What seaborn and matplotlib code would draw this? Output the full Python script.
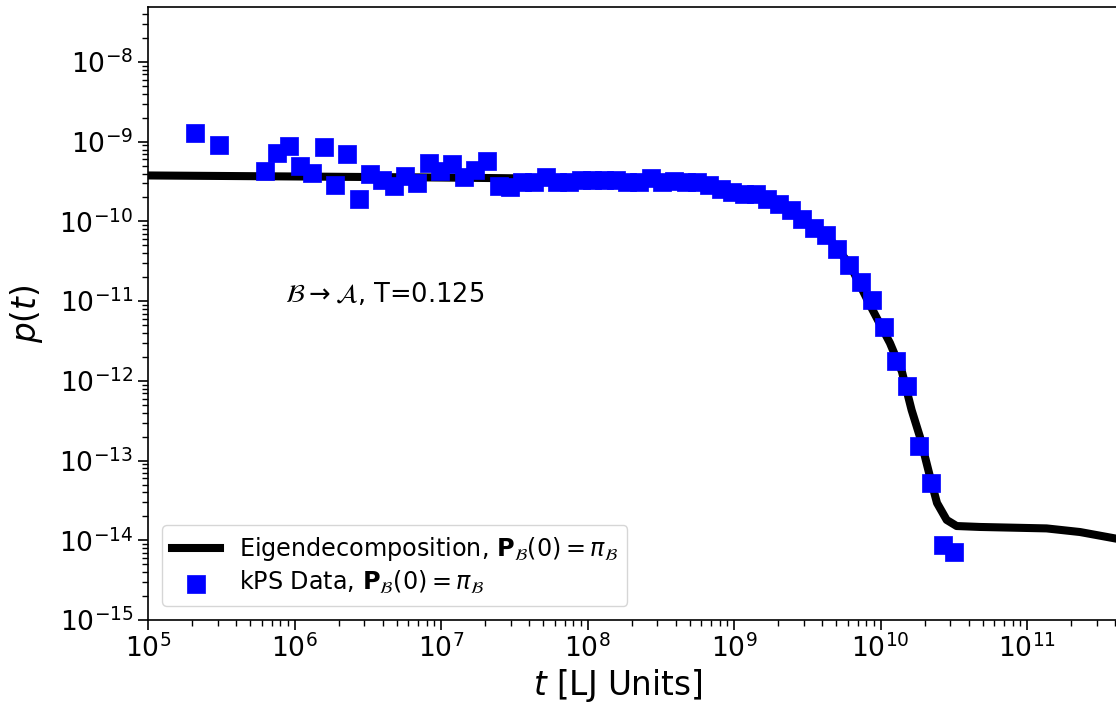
import numpy as np
import matplotlib
matplotlib.use("Agg")
import matplotlib.pyplot as plt
import seaborn as sns

# kPS data points
kps_t = [2.10e5, 3.03e5, 6.32e5, 7.59e5, 9.12e5, 1.096e6, 1.317e6, 1.582e6, 1.900e6,
         2.284e6, 2.744e6, 3.296e6, 3.960e6, 4.758e6, 5.716e6, 6.867e6, 8.25e6, 9.91e6,
         1.191e7, 1.431e7, 1.719e7, 2.065e7, 2.481e7, 2.981e7, 3.582e7, 4.303e7, 5.17e7,
         6.21e7, 7.46e7, 8.97e7, 1.077e8, 1.294e8, 1.555e8, 1.868e8, 2.244e8, 2.696e8,
         3.239e8, 3.892e8, 4.676e8, 5.618e8, 6.75e8, 8.11e8, 9.74e8, 1.170e9, 1.406e9,
         1.690e9, 2.030e9, 2.439e9, 2.930e9, 3.521e9, 4.230e9, 5.08e9, 6.11e9, 7.34e9,
         8.81e9, 1.059e10, 1.272e10, 1.528e10, 1.836e10, 2.206e10, 2.650e10, 3.184e10]
kps_p = [1.30e-9, 9.0e-10, 4.3e-10, 7.2e-10, 8.9e-10, 4.97e-10, 4.1e-10, 8.5e-10, 2.84e-10,
         7.03e-10, 1.93e-10, 4.0e-10, 3.32e-10, 2.79e-10, 3.72e-10, 3.07e-10, 5.42e-10, 4.27e-10,
         5.26e-10, 3.65e-10, 4.43e-10, 5.69e-10, 2.79e-10, 2.74e-10, 3.13e-10, 3.13e-10, 3.65e-10,
         3.13e-10, 3.13e-10, 3.32e-10, 3.32e-10, 3.32e-10, 3.32e-10, 3.13e-10, 3.13e-10, 3.55e-10,
         3.13e-10, 3.19e-10, 3.17e-10, 3.17e-10, 2.85e-10, 2.59e-10, 2.34e-10, 2.19e-10, 2.19e-10,
         1.94e-10, 1.64e-10, 1.39e-10, 1.07e-10, 8.36e-11, 6.71e-11, 4.48e-11, 2.87e-11, 1.74e-11,
         1.04e-11, 4.75e-12, 1.79e-12, 8.51e-13, 1.52e-13, 5.31e-14, 8.73e-15, 7.23e-15]

# Eigendecomposition curve
eig_t = [1e5, 1.0e6, 1e7, 1e8, 3.23e8, 1.02e9, 1.76e9, 2.82e9, 4.52e9, 6.19e9, 8.48e9,
         1.16e10, 1.40e10, 1.63e10, 1.86e10, 2.18e10, 2.43e10, 2.83e10, 3.31e10, 4.78e10,
         1.36e11, 2.30e11, 4.05e11]
eig_p = [3.78e-10, 3.67e-10, 3.56e-10, 3.41e-10, 3.22e-10, 2.54e-10, 1.91e-10, 1.17e-10,
         5.99e-11, 2.85e-11, 8.95e-12, 2.99e-12, 1.31e-12, 4.32e-13, 1.98e-13, 6.22e-14,
         2.94e-14, 1.80e-14, 1.51e-14, 1.47e-14, 1.41e-14, 1.27e-14, 1.05e-14]

xticks = [1e5, 1e6, 1e7, 1e8, 1e9, 1e10, 1e11]
yticks = [1e-15, 1e-14, 1e-13, 1e-12, 1e-11, 1e-10, 1e-9, 1e-8]

line_label = r'Eigendecomposition, $\mathbf{P}_{\mathcal{B}}(0) = \pi_{\mathcal{B}}$'
pts_label = r'kPS Data, $\mathbf{P}_{\mathcal{B}}(0) = \pi_{\mathcal{B}}$'
annot = r'$\mathcal{B} \rightarrow \mathcal{A}$, T=0.125'

fig = plt.figure(figsize=(11.16, 7.06), dpi=100)
ax = fig.add_axes([148/1116, 86/706, 1025.5/1116, 613/706])

sns.lineplot(x=eig_t, y=eig_p, ax=ax, color='black', linewidth=5.8,
             label=line_label, sort=False, zorder=2)
sns.scatterplot(x=kps_t, y=kps_p, ax=ax, marker='s', s=185, color='#0000ff',
                edgecolor='#0000ff', linewidth=0.5, label=pts_label, zorder=3)

ax.set_xscale('log')
ax.set_yscale('log')
ax.set_xlim(1e5, 1e12)
ax.set_ylim(1e-15, 4.91e-8)

ax.set_xticks(xticks)
ax.set_yticks(yticks)
ax.tick_params(axis='both', which='major', labelsize=19.2, length=7, width=1.2)
ax.tick_params(axis='both', which='minor', length=4, width=1.0)

ax.set_xlabel(r'$t$ [LJ Units]', fontsize=23.5, x=0.458, labelpad=3)
ax.set_ylabel(r'$p(t)$', fontsize=23.5, labelpad=10)

ax.text(10**6.618, 10**-10.922, annot, fontsize=18.5, ha='center', va='center')

ax.legend(loc='lower left', fontsize=17.2, frameon=True, labelspacing=0.25,
          borderaxespad=0.6)
for s in ax.spines.values():
    s.set_linewidth(1.2)

fig.savefig('out.png', dpi=100)
